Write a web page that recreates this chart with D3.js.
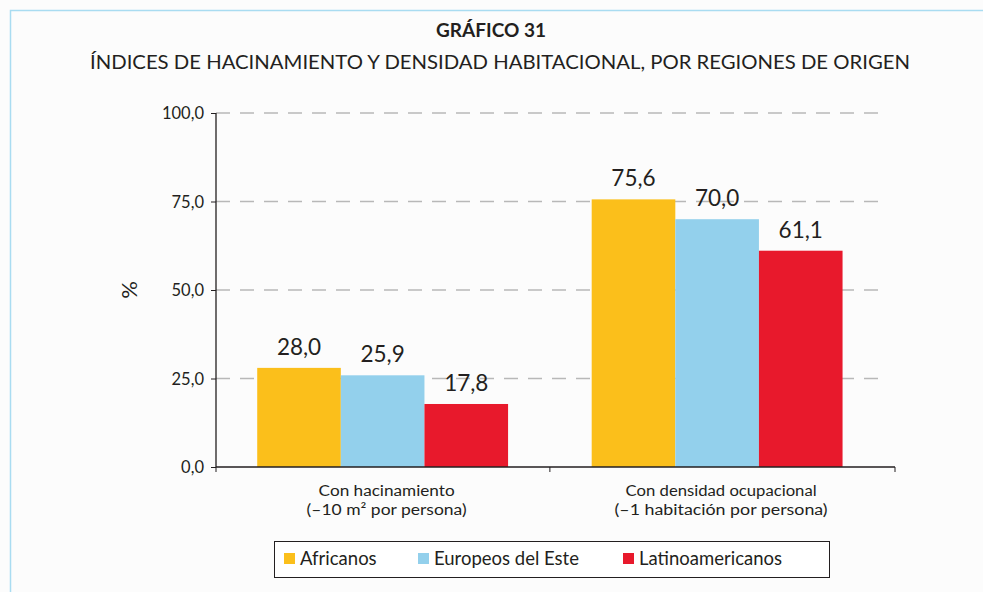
<html>
  <head>
    <script src="https://d3js.org/d3.v7.min.js"></script>
    <style>
      body {margin:0; background:#fff;}
      text {font-family: Lato, "Open Sans", sans-serif; fill:#231f20;}
    </style>
  </head>
  <body>
    <div id="chart"></div>
    <script>
      var categories = ["Con hacinamiento", "Con densidad ocupacional"];
      var categorySub = ["(\u201310 m\u00b2 por persona)", "(\u20131 habitaci\u00f3n por persona)"];
      var series = ["Africanos", "Europeos del Este", "Latinoamericanos"];
      var colors = ["#fbbf1b", "#93d0ec", "#e8192c"];
      var values = {
        "Africanos": [28.0, 75.6],
        "Europeos del Este": [25.9, 70.0],
        "Latinoamericanos": [17.8, 61.1]
      };
      var yTicks = [0, 25, 50, 75, 100];

      var W = 983, H = 592;
      var fmt = function(v){ return d3.format(".1f")(v).replace(".", ","); };

      var svg = d3.select("#chart").append("svg")
        .attr("width", W).attr("height", H);

      svg.append("rect").attr("width", W).attr("height", H).attr("fill", "#fcfcfc");
      svg.append("path")
        .attr("d", "M10.5," + H + "V10.5H" + W)
        .attr("fill", "none").attr("stroke", "#a9dcf1").attr("stroke-width", 1.5);

      svg.append("text").attr("x", 491).attr("y", 37).attr("text-anchor", "middle")
        .style("font-size", "19px").style("font-weight", "bold").text("GR\u00c1FICO 31");
      svg.append("text").attr("x", 500).attr("y", 69).attr("text-anchor", "middle")
        .style("font-size", "19.5px")
        .attr("textLength", 820).attr("lengthAdjust", "spacingAndGlyphs")
        .text("\u00cdNDICES DE HACINAMIENTO Y DENSIDAD HABITACIONAL, POR REGIONES DE ORIGEN");

      var x0 = d3.scaleBand().domain(categories).range([216, 895])
        .paddingInner(0.25).paddingOuter(0.14).align(0.44);
      var x1 = d3.scaleBand().domain(series).range([0, x0.bandwidth()]);
      var y = d3.scaleLinear().domain([0, 100]).range([467, 113]);

      // grid
      svg.append("g").selectAll("line")
        .data(yTicks.filter(function(d){ return d > 0; }))
        .enter().append("line")
        .attr("x1", 216).attr("x2", 886)
        .attr("y1", function(d){ return y(d); }).attr("y2", function(d){ return y(d); })
        .attr("stroke", "#b8b8b8").attr("stroke-width", 1.3)
        .attr("stroke-dasharray", "14,10");

      // bars
      series.forEach(function(s, i){
        svg.append("g").selectAll("rect")
          .data(values[s])
          .enter().append("rect")
          .attr("x", function(d, j){ return x0(categories[j]) + x1(s); })
          .attr("y", function(d){ return y(d); })
          .attr("width", x1.bandwidth())
          .attr("height", function(d){ return y(0) - y(d); })
          .attr("fill", colors[i]);
        svg.append("g").selectAll("text")
          .data(values[s])
          .enter().append("text")
          .attr("x", function(d, j){ return x0(categories[j]) + x1(s) + x1.bandwidth() / 2; })
          .attr("y", function(d){ return y(d) - 13; })
          .attr("text-anchor", "middle")
          .style("font-size", "22.5px")
          .text(fmt);
      });

      // y axis
      var yAxis = svg.append("g").attr("transform", "translate(216,0)")
        .call(d3.axisLeft(y).tickValues(yTicks).tickSize(5).tickFormat(fmt));
      yAxis.select(".domain").attr("stroke", "#231f20").attr("stroke-width", 1.3).attr("d", "M0,113V467");
      yAxis.selectAll(".tick line").attr("stroke", "#231f20");
      yAxis.selectAll(".tick text").attr("x", -12).attr("dy", "0.35em")
        .style("font-size", "16.5px").style("font-family", "Lato, sans-serif").attr("fill", "#231f20");

      svg.append("text").attr("transform", "translate(137,290) rotate(-90)")
        .attr("text-anchor", "middle").style("font-size", "22px").text("%");

      // x axis with ticks on band edges
      var edges = [216, 895];
      categories.forEach(function(c, j){ if (j > 0) edges.splice(j, 0, (x0(categories[j - 1]) + x0.bandwidth() + x0(c)) / 2); });
      svg.append("line").attr("x1", 216).attr("x2", 895).attr("y1", 467).attr("y2", 467)
        .attr("stroke", "#231f20").attr("stroke-width", 1.3);
      svg.append("g").selectAll("line").data(edges).enter().append("line")
        .attr("x1", function(d){ return d; }).attr("x2", function(d){ return d; })
        .attr("y1", 467).attr("y2", 472).attr("stroke", "#231f20");

      var xl = svg.append("g").selectAll("g").data(categories).enter().append("g");
      xl.append("text")
        .attr("x", function(d){ return x0(d) + x0.bandwidth() / 2 + 4; })
        .attr("y", 496).attr("text-anchor", "middle").style("font-size", "15.5px")
        .attr("textLength", function(d, j){ return j === 0 ? 136 : 191; })
        .attr("lengthAdjust", "spacingAndGlyphs")
        .text(function(d){ return d; });
      xl.append("text")
        .attr("x", function(d){ return x0(d) + x0.bandwidth() / 2 + 4; })
        .attr("y", 515).attr("text-anchor", "middle").style("font-size", "15.5px")
        .attr("textLength", function(d, j){ return j === 0 ? 160 : 213; })
        .attr("lengthAdjust", "spacingAndGlyphs")
        .text(function(d, j){ return categorySub[j]; });

      // legend
      svg.append("rect").attr("x", 274.5).attr("y", 541.5).attr("width", 555).attr("height", 36)
        .attr("fill", "#fff").attr("stroke", "#231f20").attr("stroke-width", 1);
      var legX = [284, 418, 623];
      var leg = svg.append("g").selectAll("g").data(series).enter().append("g")
        .attr("transform", function(d, i){ return "translate(" + legX[i] + ",553)"; });
      leg.append("rect").attr("width", 11).attr("height", 11)
        .attr("fill", function(d, i){ return colors[i]; });
      leg.append("text").attr("x", 16).attr("y", 12).style("font-size", "18.5px")
        .text(function(d){ return d; });
    </script>
  </body>
</html>
